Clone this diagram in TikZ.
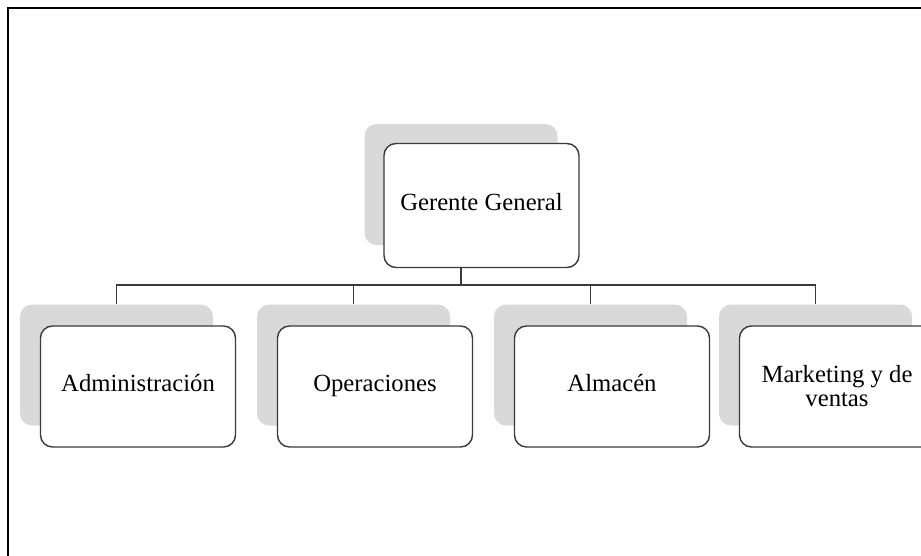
\documentclass[tikz,border=0pt]{standalone}
\usepackage{fontspec}
\setmainfont{Liberation Serif}
\usetikzlibrary{positioning}
\definecolor{shadegray}{HTML}{D9D9D9}
\definecolor{edgegray}{HTML}{3A3A3A}

\begin{document}
\begin{tikzpicture}[x=0.5pt,y=-0.5pt,
	backing/.style={fill=shadegray, rounded corners=6pt, minimum width=96.5pt, minimum height=60.5pt, inner sep=0pt},
	unit/.style={draw=edgegray, fill=white, line width=0.7pt, rounded corners=6pt, minimum width=97.5pt, minimum height=60.5pt, inner sep=2pt, align=center, font=\fontsize{12.35}{12}\selectfont},
	link/.style={draw=edgegray, line width=0.55pt}]
	\useasboundingbox (0,0) rectangle (921,556);
	\draw[line width=1.1pt] (8,8) rectangle (960,600);
	% shadows
	\node[backing] (ger-sh) at (461,184.5) {};
	\foreach \n/\x in {adm/116.5,ope/353.5,alm/590.5,mkt/815.5}
		\node[backing] (\n-sh) at (\x,365) {};
	% lines
	\coordinate (bus) at (461,285);
	\draw[link] (ger-sh.south) -- (bus);
	\foreach \n in {adm,ope,alm,mkt}
		\draw[link] (bus) -| (\n-sh.north);
	% boxes
	\node[unit, minimum height=62pt] (ger) at ([shift={(20.5,21)}]ger-sh) {Gerente General\strut};
	\foreach \n/\t in {adm/{Administración\strut},ope/{Operaciones\strut},alm/{Almacén\strut},mkt/{Marketing y de\\ventas}}
		\node[unit] (\n) at ([shift={(21.5,21.5)}]\n-sh) {\t};
\end{tikzpicture}
\end{document}
